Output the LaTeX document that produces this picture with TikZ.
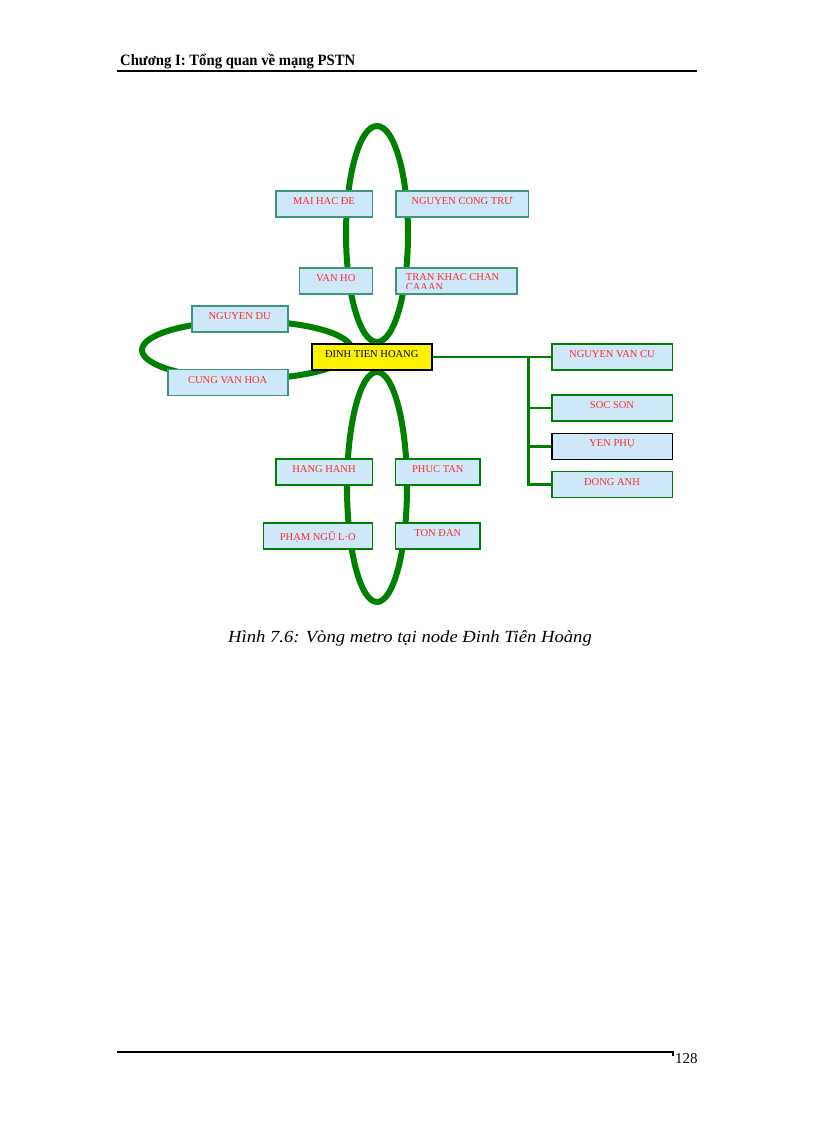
\documentclass[tikz,border=0pt]{standalone}
\usepackage{fontspec}
\setmainfont{Liberation Serif}
\definecolor{boxfill}{RGB}{206,232,250}
\definecolor{tealb}{RGB}{60,150,120}
\definecolor{lgreen}{RGB}{0,128,0}
\definecolor{lred}{RGB}{255,45,45}
\tikzset{
  loop/.style={draw=lgreen, line width=6pt},
  conn/.style={draw=lgreen, line width=2.5pt},
  box/.style={draw=tealb, line width=1.6pt, fill=boxfill, inner xsep=0pt, inner ysep=0pt,
    text height=13.6pt, text depth=12.4pt, text=lred,
    font=\fontsize{10.5}{12}\selectfont},
  gbox/.style={box, draw=lgreen},
  kbox/.style={box, draw=black},
  cbox/.style={box, draw=black, fill=yellow, text=black, line width=2pt},
}
\begin{document}
\begin{tikzpicture}[x=1pt,y=-1pt]
\useasboundingbox (0,0) rectangle (816,1123);
% header
\node[anchor=base west, inner sep=0pt, font=\fontsize{15}{18}\selectfont\bfseries] (hdr) at (120,66) {\scalebox{0.98}[1.05]{Chương I: Tổng quan về mạng PSTN}};
\coordinate (hl) at (117,71);
\coordinate (hr) at (697,71);
\draw[line width=1.2pt] (hl) -- (hr);
% loops
\draw[loop] (377,234) ellipse [x radius=31, y radius=108];
\draw[loop] (377,487) ellipse [x radius=30, y radius=115];
\draw[loop] (247,350) ellipse [x radius=105, y radius=29];
% boxes
\node[box, minimum width=96.6] (mhd) at (324,204) {MAI HAC ĐE};
\node[box, minimum width=132.6] (nct) at (462,204) {NGUYEN CONG TRƯ};
\node[box, minimum width=73] (vh) at (335.8,280.8) {VAN HO};
\node[box, minimum width=121] (tkc) at (456.2,280.8) {};
\begin{scope}
\clip (tkc.north west) ++(1,1) rectangle (516,288);
\node[anchor=base west, inner sep=0pt, align=left, text=lred, font=\fontsize{10.5}{10.5}\selectfont] (tkct) at (405.7,290.5) {TRAN KHAC CHAN\\CAAAN};
\end{scope}
\node[box, minimum width=96] (ndu) at (239.7,319) {NGUYEN DU};
\node[box, minimum width=120] (cvh) at (227.7,382.5) {CUNG VAN HOA};
\node[cbox, minimum width=120] (dth) at (371.7,357) {ĐINH TIEN HOANG};
\node[gbox, minimum width=120.6] (nvc) at (612,357) {NGUYEN VAN CU};
\node[gbox, minimum width=120.6] (ss) at (612,408) {SOC SON};
\node[kbox, minimum width=120.6] (yp) at (612,446.3) {YEN PHỤ};
\node[gbox, minimum width=120.6] (da) at (612,484.5) {ĐONG ANH};
\node[gbox, minimum width=96.6] (hh) at (324,472) {HANG HANH};
\node[gbox, minimum width=84.3] (pt) at (437.8,472) {PHUC TAN};
\node[gbox, minimum width=109, text height=17.4pt, text depth=8.6pt] (pnl) at (317.8,535.7) {PHẠM NGŨ L·O};
\node[gbox, minimum width=84.3] (td) at (437.8,535.7) {TON ĐAN};
% tree connectors
\coordinate (trunk) at (528.3,357);
\draw[conn] (dth.east) -- (nvc.west);
\draw[conn] (trunk) |- (da.west);
\draw[conn] (trunk) |- (ss.west);
\draw[conn] (trunk) |- (yp.west);
% caption
\node[anchor=base west, inner sep=0pt, font=\fontsize{17}{20}\selectfont\itshape] (cap) at (228,642) {\scalebox{1.096}[1]{Hình 7.6: Vòng metro tại node Đinh Tiên Hoàng}};
% footer
\coordinate (fl) at (117,1052);
\coordinate (fr) at (673,1052);
\coordinate (ft) at (673,1056);
\draw[line width=1.2pt] (fl) -- (fr) -- (ft);
\node[anchor=base west, inner sep=0pt, font=\fontsize{15}{18}\selectfont] (pg) at (675,1063) {128};
\end{tikzpicture}
\end{document}
